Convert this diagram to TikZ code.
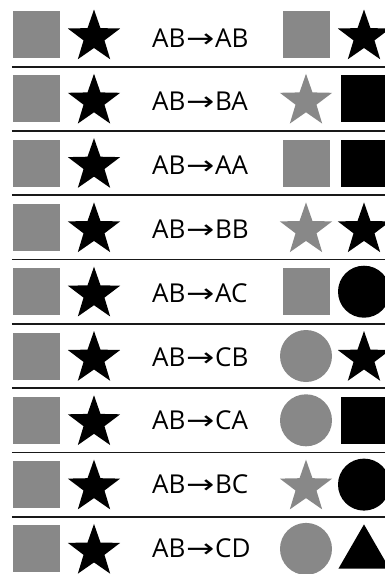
\documentclass[tikz,border=0pt]{standalone}
\usepackage{fontspec}
\usetikzlibrary{positioning, shapes.geometric, calc}
\newfontfamily\labelfont{Open Sans}
\newfontfamily\arrowfont[FakeStretch=1.3]{DejaVu Sans}
\definecolor{shade}{HTML}{888888}
\newcommand{\maps}[2]{#1\kern0.5pt{\arrowfont →}\kern0.8pt#2}
\tikzset{
    sqshape/.style={
        rectangle, fill=#1, draw=none,
        minimum size=47pt, inner sep=0pt,
    },
    starshape/.style={
        star, star points=5, star point ratio=2.5,
        fill=#1, draw=none,
        minimum size=55pt, inner sep=0pt,
    },
    discshape/.style={
        circle, fill=#1, draw=none,
        minimum size=52pt, inner sep=0pt,
    },
    trishape/.style={
        regular polygon, regular polygon sides=3,
        fill=#1, draw=none,
        minimum size=59pt, inner sep=0pt,
    },
    maplabel/.style={
        font=\labelfont\fontsize{26}{30}\selectfont,
        inner sep=0pt, anchor=base west,
    },
    divider/.style={
        line width=1.8pt, color=black!90,
    },
}

\begin{document}
\begin{tikzpicture}[x=1pt, y=-1pt, on grid]

\useasboundingbox (0,0) rectangle (385,574);
\clip (0,0) rectangle (385,574);

% =============================================
% Left column: the fixed pair, square + star
% =============================================
\node[sqshape=shade] (sq1) at (36.5,34.5) {};
\node[sqshape=shade, below=64.3pt of sq1] (sq2) {};
\node[sqshape=shade, below=64.3pt of sq2] (sq3) {};
\node[sqshape=shade, below=64.3pt of sq3] (sq4) {};
\node[sqshape=shade, below=64.3pt of sq4] (sq5) {};
\node[sqshape=shade, below=64.3pt of sq5] (sq6) {};
\node[sqshape=shade, below=64.3pt of sq6] (sq7) {};
\node[sqshape=shade, below=64.3pt of sq7] (sq8) {};
\node[sqshape=shade, below=64.3pt of sq8] (sq9) {};

\node[starshape=black, right=57.5pt of sq1, yshift=-2.5pt] (st1) {};
\node[starshape=black, right=57.5pt of sq2, yshift=-2.5pt] (st2) {};
\node[starshape=black, right=57.5pt of sq3, yshift=-2.5pt] (st3) {};
\node[starshape=black, right=57.5pt of sq4, yshift=-2.5pt] (st4) {};
\node[starshape=black, right=57.5pt of sq5, yshift=-2.5pt] (st5) {};
\node[starshape=black, right=57.5pt of sq6, yshift=-2.5pt] (st6) {};
\node[starshape=black, right=57.5pt of sq7, yshift=-2.5pt] (st7) {};
\node[starshape=black, right=57.5pt of sq8, yshift=-2.5pt] (st8) {};
\node[starshape=black, right=57.5pt of sq9, yshift=-2.5pt] (st9) {};

% =============================================
% Middle column: the mappings
% =============================================
\node[below right=12.5pt and 115.5pt of sq1, maplabel] (map1) {\maps{AB}{AB}};
\node[below right=12pt and 115.5pt of sq2, maplabel] (map2) {\maps{AB}{BA}};
\node[below right=11.5pt and 115.5pt of sq3, maplabel] (map3) {\maps{AB}{AA}};
\node[below right=11pt and 115.5pt of sq4, maplabel] (map4) {\maps{AB}{BB}};
\node[below right=10.5pt and 115.5pt of sq5, maplabel] (map5) {\maps{AB}{AC}};
\node[below right=10pt and 115.5pt of sq6, maplabel] (map6) {\maps{AB}{CB}};
\node[below right=9.5pt and 115.5pt of sq7, maplabel] (map7) {\maps{AB}{CA}};
\node[below right=9pt and 115.5pt of sq8, maplabel] (map8) {\maps{AB}{BC}};
\node[below right=8.5pt and 115.5pt of sq9, maplabel] (map9) {\maps{AB}{CD}};

% =============================================
% Right column: the resulting pair
% =============================================
\node[sqshape=shade, right=269.5pt of sq1] (ga1) {};
\node[starshape=black, right=327.5pt of sq1, yshift=-2.5pt] (kb1) {};

\node[starshape=shade, right=269.5pt of sq2, yshift=-2.5pt] (ga2) {};
\node[sqshape=black, right=327.5pt of sq2] (kb2) {};

\node[sqshape=shade, right=269.5pt of sq3] (ga3) {};
\node[sqshape=black, right=327.5pt of sq3] (kb3) {};

\node[starshape=shade, right=269.5pt of sq4, yshift=-2.5pt] (ga4) {};
\node[starshape=black, right=327.5pt of sq4, yshift=-2.5pt] (kb4) {};

\node[sqshape=shade, right=269.5pt of sq5] (ga5) {};
\node[discshape=black, right=327.5pt of sq5] (kb5) {};

\node[discshape=shade, right=269.5pt of sq6] (ga6) {};
\node[starshape=black, right=327.5pt of sq6, yshift=-2.5pt] (kb6) {};

\node[discshape=shade, right=269.5pt of sq7] (ga7) {};
\node[sqshape=black, right=327.5pt of sq7] (kb7) {};

\node[starshape=shade, right=269.5pt of sq8, yshift=-2.5pt] (ga8) {};
\node[discshape=black, right=327.5pt of sq8] (kb8) {};

\node[discshape=shade, right=269.5pt of sq9] (ga9) {};
\node[trishape=black, right=327.5pt of sq9, yshift=-5pt] (kb9) {};

% =============================================
% Row dividers
% =============================================
\draw[divider] ($(sq1.west)!.5!(sq2.west)$) ++(-1,0) -- ++(380,0);
\draw[divider] ($(sq2.west)!.5!(sq3.west)$) ++(-1,0) -- ++(380,0);
\draw[divider] ($(sq3.west)!.5!(sq4.west)$) ++(-1,0) -- ++(380,0);
\draw[divider] ($(sq4.west)!.5!(sq5.west)$) ++(-1,0) -- ++(380,0);
\draw[divider] ($(sq5.west)!.5!(sq6.west)$) ++(-1,0) -- ++(380,0);
\draw[divider] ($(sq6.west)!.5!(sq7.west)$) ++(-1,0) -- ++(380,0);
\draw[divider] ($(sq7.west)!.5!(sq8.west)$) ++(-1,0) -- ++(380,0);
\draw[divider] ($(sq8.west)!.5!(sq9.west)$) ++(-1,0) -- ++(380,0);

\end{tikzpicture}
\end{document}
